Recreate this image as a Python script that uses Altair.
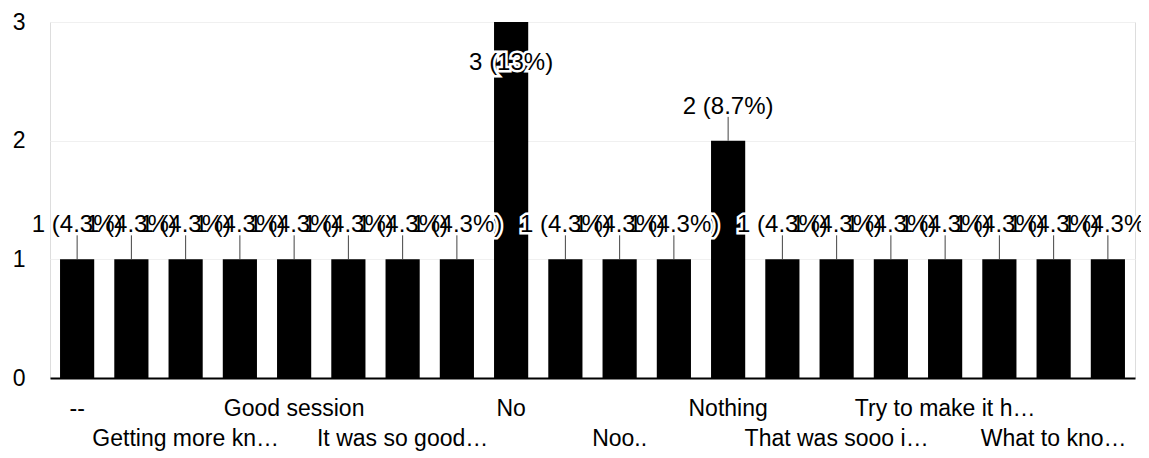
import json
import altair as alt
import pandas as pd

answers = [
    "--", "Excellent", "Getting more kn…", "Good", "Good session",
    "Informative", "It was so good…", "Nice", "No", "No suggestions",
    "Noo..", "Nope", "Nothing", "Superb", "That was sooo i…",
    "Too good", "Try to make it h…", "Very good", "What to kno…", "Wonderful",
]
counts = [1, 1, 1, 1, 1, 1, 1, 1, 3, 1, 1, 1, 2, 1, 1, 1, 1, 1, 1, 1]
y_ticks = [0, 1, 2, 3]

df = pd.DataFrame({"answer": answers, "count": counts})

FONT = "Liberation Sans"
cat_list = json.dumps(answers, ensure_ascii=False)
idx = f"indexof({cat_list}, datum.value)"
label_expr = f"{idx} % 2 == 1 ? '' : ({idx} % 4 == 0 ? datum.value : ['', datum.value])"

x = alt.X(
    "answer:N",
    sort=answers,
    scale=alt.Scale(paddingInner=0.37, paddingOuter=0.185),
    axis=alt.Axis(
        title=None, labelAngle=0, labelExpr=label_expr, labelFontSize=23,
        labelFont=FONT, labelColor="#000", labelPadding=19, labelLineHeight=30,
        labelBaseline="top", labelLimit=400, labelOverlap=False, ticks=False,
        domainColor="#000", domainWidth=2, grid=False,
    ),
)
y = alt.Y(
    "count:Q",
    scale=alt.Scale(domain=[0, 3], nice=False),
    axis=alt.Axis(
        title=None, values=y_ticks, format="d", labelFontSize=23, labelFont=FONT,
        labelColor="#000", labelPadding=25, ticks=False, tickSize=0, domain=False,
        grid=True, gridColor="#f0f0f0", gridWidth=1,
    ),
)

base = alt.Chart(df).transform_joinaggregate(
    total="sum(count)", maxv="max(count)"
).transform_calculate(
    label="datum.count + ' (' + format(datum.count / datum.total * 100, '.2r') + '%)'"
)

bars = base.mark_bar(color="#000").encode(x=x, y=y)

above = base.transform_filter("datum.count < datum.maxv")
inside = base.transform_filter("datum.count == datum.maxv")

leaders = above.mark_rule(color="#444", strokeWidth=1, y2Offset=-24).encode(
    x=x, y=y, y2=alt.Y2("count:Q")
)

def text_layers(src, dy):
    halo = src.mark_text(
        baseline="alphabetic", dy=dy, fontSize=24, font=FONT,
        fill="white", stroke="white", strokeWidth=5,
    ).encode(x=x, y=y, text="label:N")
    txt = src.mark_text(
        baseline="alphabetic", dy=dy, fontSize=24, font=FONT, fill="#000",
    ).encode(x=x, y=y, text="label:N")
    return halo, txt

h1, t1 = text_layers(above, -27)
h2, t2 = text_layers(inside, 48)

chart = alt.layer(bars, leaders, h1, h2, t1, t2).properties(
    width=1085,
    height=356,
    padding={"left": 42, "top": 14, "right": 6, "bottom": 74},
    autosize=alt.AutoSizeParams(type="none"),
).configure_view(stroke=None).configure(background="white")

chart.save("out.html", embed_options={"renderer": "svg", "actions": False})
